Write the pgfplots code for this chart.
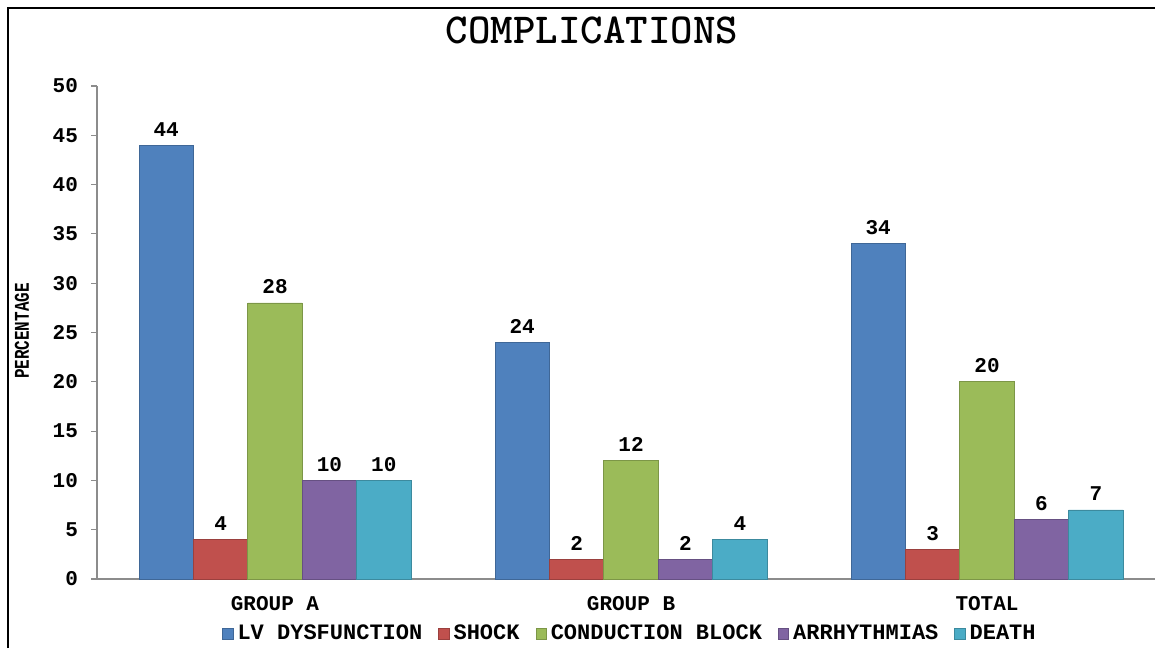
\documentclass[border=0pt]{standalone}
\usepackage{pgfplots}
\pgfplotsset{compat=1.18}
\usepackage{fontspec}
\setmainfont{Liberation Mono}
\usepackage{graphicx}

\definecolor{cBlue}{HTML}{4F81BD}
\definecolor{cRed}{HTML}{C0504D}
\definecolor{cGreen}{HTML}{9BBB59}
\definecolor{cPurple}{HTML}{8064A2}
\definecolor{cTeal}{HTML}{4BACC6}

\begin{document}
\begin{tikzpicture}
\useasboundingbox (0,0) rectangle (577.5pt,324pt);
\clip (0,0) rectangle (577.5pt,324pt);
\fill[white] (0,0) rectangle (577.5pt,324pt);
% frame (top and left only)
\draw[line width=1pt] (4pt,0) -- (4pt,320pt) -- (577.5pt,320pt);

\node[font=\ttfamily\bfseries\fontsize{21.4}{22}\selectfont] at (296pt,309pt) {COMPLICATIONS};
\node[rotate=90,font=\bfseries\fontsize{10.5}{11}\selectfont] at (11pt,158.5pt)
  {\scalebox{0.76}[1]{PERCENTAGE}};

\begin{axis}[
  at={(48.5pt,34.5pt)}, anchor=south west,
  scale only axis,
  width=534pt, height=246.5pt,
  xmin=-0.5, xmax=2.5,
  ymin=0, ymax=50,
  ytick={0,5,...,50},
  xtick={0,1,2},
  xticklabels={GROUP A,GROUP B,TOTAL},
  axis lines*=left,
  axis line style={gray!90, line width=0.8pt},
  x axis line style={-},
  y axis line style={-},
  major tick length=3pt,
  tick align=outside,
  xtick style={draw=none},
  ytick style={gray!90, line width=0.6pt},
  /pgf/number format/assume math mode=true,
  ticklabel style={font=\bfseries\fontsize{10.5}{11}\selectfont},
  yticklabel style={xshift=-3pt},
  xticklabel style={yshift=-2pt},
  ybar=0pt,
  bar width=27.2pt,
  nodes near coords,
  every node near coord/.append style={font=\bfseries\fontsize{10.5}{11}\selectfont, yshift=1pt},
  legend columns=5,
  legend style={at={(0.5,-0.1116)}, anchor=center, draw=none,
    font=\bfseries\fontsize{11}{12}\selectfont,
    /tikz/every even column/.append style={column sep=6pt},
    inner sep=0pt},
  legend image code/.code={\fill[#1] (0pt,-2.6pt) rectangle (5.2pt,2.6pt);},
]
\addplot[fill=cBlue, draw=cBlue!80!black, line width=0.4pt] coordinates {(0,44) (1,24) (2,34)};
\addplot[fill=cRed, draw=cRed!80!black, line width=0.4pt] coordinates {(0,4) (1,2) (2,3)};
\addplot[fill=cGreen, draw=cGreen!80!black, line width=0.4pt] coordinates {(0,28) (1,12) (2,20)};
\addplot[fill=cPurple, draw=cPurple!80!black, line width=0.4pt] coordinates {(0,10) (1,2) (2,6)};
\addplot[fill=cTeal, draw=cTeal!80!black, line width=0.4pt] coordinates {(0,10) (1,4) (2,7)};
\legend{LV DYSFUNCTION,SHOCK,CONDUCTION BLOCK,ARRHYTHMIAS,DEATH}
\end{axis}
\end{tikzpicture}
\end{document}
